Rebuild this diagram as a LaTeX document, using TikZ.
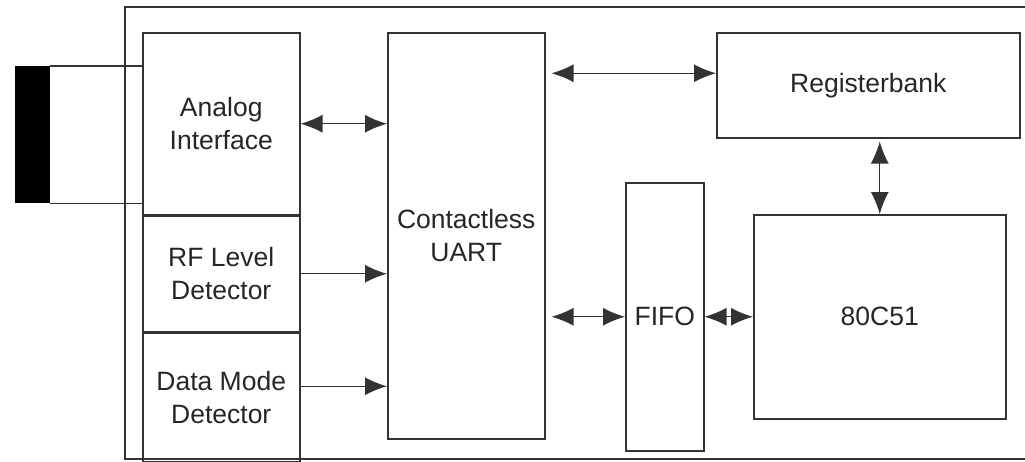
\documentclass[tikz,border=0pt]{standalone}
\usepackage{fontspec}
\setmainfont{Liberation Sans}
\usepackage{tikz}
\usetikzlibrary{arrows.meta, positioning}

\tikzset{
  block/.style={draw=black!80, line width=1.5pt, align=center, anchor=north west,
    inner sep=0pt, font=\fontsize{26.5}{33}\selectfont, text=black!85},
}

\begin{document}
\begin{tikzpicture}[x=1pt, y=-1pt, >={Latex[length=22pt,width=18pt]}, line width=1.2pt]
        \useasboundingbox (0,0) rectangle (1025,461);

        % outer frame, open to the right
        \draw[black!80] (1025,7) -| (125,459) -- (1025,459);

        \node[block, minimum width=157pt, minimum height=182pt] (ana) at (142,32) {Analog\\Interface};
        \node[block, minimum width=157pt, minimum height=115pt, anchor=north] (rf) [below=0pt of ana] {RF Level\\Detector};
        \node[block, minimum width=157pt, minimum height=129pt, anchor=north] (dm) [below=0pt of rf] {Data Mode\\Detector};
        \node[block, minimum width=157pt, minimum height=406pt] (uart) at (387,32) {Contactless\\UART};
        \node[block, minimum width=303pt, minimum height=105pt] (reg) at (716,32) {Registerbank};
        \node[block, minimum width=78pt, minimum height=268pt] (fifo) at (625,182) {FIFO};
        \node[block, minimum width=252pt, minimum height=204pt] (mcu) at (753,214) {80C51};

        % antenna
        \node[fill=black, draw=black, minimum width=34pt, minimum height=136pt, inner sep=0pt, anchor=north west] (ant) at (15,66) {};
        \draw[black!80] (ant.north east) -- (ant.north east -| ana.west);
        \draw[black!80] (ant.south east) -- (ant.south east -| ana.west);

        \path[black!80]
        (ana.east) edge[<->] (ana.east -| uart.west)
        (rf.east) edge[->] (rf.east -| uart.west)
        ([yshift=11pt]dm.east) edge[->] ([yshift=11pt]dm.east -| uart.west)
        ([yshift=12pt]reg.west) edge[<->, shorten >=6pt] ([yshift=12pt]reg.west -| uart.east)
        (mcu.north) edge[<->, shorten >=3pt] (mcu.north |- reg.south)
        (fifo.west) edge[<->, shorten >=6pt] (fifo.west -| uart.east)
        (fifo.east) edge[<->] (mcu.west);

    \end{tikzpicture}
\end{document}
